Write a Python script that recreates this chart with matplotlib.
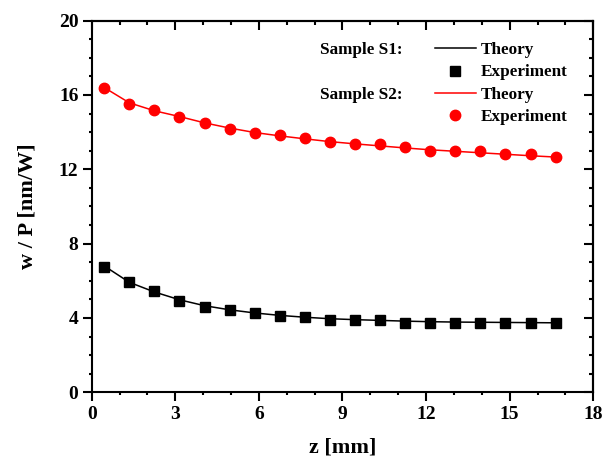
import matplotlib
matplotlib.use("Agg")
import matplotlib.pyplot as plt
from matplotlib.ticker import MultipleLocator
from matplotlib.lines import Line2D

plt.rcParams['font.family'] = ['Liberation Serif', 'DejaVu Serif']
plt.rcParams['font.weight'] = 'bold'

z = [0.45, 1.35, 2.25, 3.15, 4.05, 4.95, 5.85, 6.75, 7.65, 8.55,
     9.45, 10.35, 11.25, 12.15, 13.05, 13.95, 14.85, 15.75, 16.65]

s1_exp = [6.77, 5.93, 5.44, 4.92, 4.58, 4.42, 4.25, 4.08, 4.07, 3.91,
          3.91, 3.91, 3.75, 3.75, 3.75, 3.75, 3.74, 3.74, 3.74]
s1_theory = [6.80, 5.92, 5.40, 4.98, 4.66, 4.44, 4.27, 4.14, 4.04, 3.96,
             3.91, 3.87, 3.83, 3.80, 3.78, 3.77, 3.76, 3.75, 3.74]

s2_exp = [16.37, 15.53, 15.17, 14.83, 14.51, 14.18, 13.98, 13.82, 13.66, 13.48,
          13.34, 13.34, 13.18, 13.00, 13.00, 13.00, 12.82, 12.82, 12.66]
s2_theory = [16.40, 15.58, 15.15, 14.84, 14.50, 14.22, 13.98, 13.80, 13.64, 13.49,
             13.37, 13.26, 13.15, 13.05, 12.97, 12.89, 12.81, 12.73, 12.66]

legend_labels = ["Theory", "Experiment", "Theory", "Experiment"]
group_labels = ["Sample S1:", "Sample S2:"]

fig = plt.figure(figsize=(6.06, 4.59), dpi=100)
ax = fig.add_axes([0.1513, 0.1453, 0.979 - 0.1513, 0.955 - 0.1453])

lw = 1.1
ax.plot(z, s1_theory, color='black', lw=lw, zorder=2)
ax.plot(z, s1_exp, ls='none', marker='s', ms=6.5, color='black', zorder=3)
ax.plot(z, s2_theory, color='red', lw=lw, zorder=2)
ax.plot(z, s2_exp, ls='none', marker='o', ms=7.5, color='red', mec='red', zorder=3)

ax.set_xlim(0, 18)
ax.set_ylim(0, 20)
ax.xaxis.set_major_locator(MultipleLocator(3))
ax.xaxis.set_minor_locator(MultipleLocator(1))
ax.yaxis.set_major_locator(MultipleLocator(4))
ax.yaxis.set_minor_locator(MultipleLocator(1))

for sp in ax.spines.values():
    sp.set_linewidth(1.5)

ax.tick_params(which='both', direction='out', width=1.5, labelsize=14)
ax.tick_params(which='major', length=6.5)
ax.tick_params(which='minor', length=2.5)
ax.tick_params(axis='x', which='major', pad=3.5)
ax.tick_params(axis='y', which='major', pad=3)
# mirrored ticks on top/right pointing inward
sec_x = ax.secondary_xaxis('top')
sec_x.xaxis.set_major_locator(MultipleLocator(3))
sec_x.xaxis.set_minor_locator(MultipleLocator(1))
sec_x.tick_params(which='both', direction='in', width=1.5, labeltop=False)
sec_x.tick_params(which='major', length=6.5)
sec_x.tick_params(which='minor', length=3)
sec_x.spines['top'].set_linewidth(1.5)
sec_y = ax.secondary_yaxis('right')
sec_y.yaxis.set_major_locator(MultipleLocator(4))
sec_y.yaxis.set_minor_locator(MultipleLocator(1))
sec_y.tick_params(which='both', direction='in', width=1.5, labelright=False)
sec_y.tick_params(which='major', length=6.5)
sec_y.tick_params(which='minor', length=3)
sec_y.spines['right'].set_linewidth(1.5)

ax.set_xlabel("z [mm]", fontsize=16, fontweight='bold', labelpad=10)
ax.set_ylabel("w / P [nm/W]", fontsize=16, fontweight='bold', labelpad=15.5)

handles = [
    Line2D([], [], color='black', lw=lw),
    Line2D([], [], color='black', ls='none', marker='s', ms=6.5),
    Line2D([], [], color='red', lw=lw),
    Line2D([], [], color='red', ls='none', marker='o', ms=7.5),
]
leg = ax.legend(handles, legend_labels, loc='upper left',
                bbox_to_anchor=(442 / 606 - 0.012, 1 - 42 / 459),
                bbox_transform=fig.transFigure,
                frameon=False, fontsize=12.3, handlelength=2.4,
                handletextpad=0.3, labelspacing=0.38, borderpad=0, borderaxespad=0)

fig.canvas.draw()
renderer = fig.canvas.get_renderer()
texts = leg.get_texts()
for lbl, t in zip(group_labels, [texts[0], texts[2]]):
    bb = t.get_window_extent(renderer)
    ycen = (bb.y0 + bb.y1) / 2
    fig.text(320 / 606, ycen / fig.bbox.height, lbl, fontsize=12.3,
             fontweight='bold', ha='left', va='center')

fig.savefig("out.png", dpi=100)
